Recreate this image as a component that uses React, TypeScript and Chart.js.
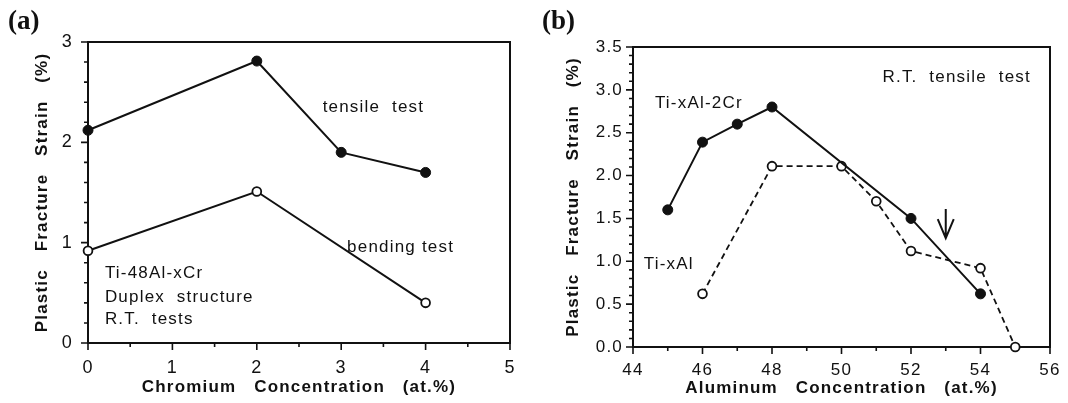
import React, { useEffect, useRef } from 'react';
import { Chart, registerables } from 'chart.js';

Chart.register(...registerables);

// ---------- Panel (a): Ti-48Al-xCr ----------
const CR_TENSILE_X = [0, 2, 3, 4];
const CR_TENSILE_Y = [2.12, 2.81, 1.9, 1.7];
const CR_BENDING_X = [0, 2, 4];
const CR_BENDING_Y = [0.92, 1.51, 0.4];
const A_X_TICK_LABELS = ['0', '1', '2', '3', '4', '5'];
const A_Y_TICK_LABELS = ['0', '1', '2', '3'];

// ---------- Panel (b): Ti-xAl-2Cr / Ti-xAl ----------
const AL_CR_X = [45, 46, 47, 48, 52, 54];
const AL_CR_Y = [1.6, 2.39, 2.6, 2.8, 1.5, 0.62];
const AL_X = [46, 48, 50, 51, 52, 54, 55];
const AL_Y = [0.62, 2.11, 2.11, 1.7, 1.12, 0.92, 0];
const B_X_TICK_LABELS = ['44', '46', '48', '50', '52', '54', '56'];
const B_Y_TICK_LABELS = ['0.0', '0.5', '1.0', '1.5', '2.0', '2.5', '3.0', '3.5'];

// annotations (data coordinates)
const A_NOTES = [
  { text: 'tensile  test', x: 2.78, y: 2.3 },
  { text: 'bending test', x: 3.07, y: 0.91 },
  { text: 'Ti-48Al-xCr', x: 0.2, y: 0.645 },
  { text: 'Duplex  structure', x: 0.2, y: 0.41 },
  { text: 'R.T.  tests', x: 0.2, y: 0.19 },
];
const B_NOTES = [
  { text: 'R.T.  tensile  test', x: 51.18, y: 3.09 },
  { text: 'Ti-xAl-2Cr', x: 44.63, y: 2.79 },
  { text: 'Ti-xAl', x: 44.31, y: 0.91 },
];
const B_ARROW = { x: 53, from: 1.61, to: 1.27 };

const INK = '#111111';
const SANS = '"Liberation Sans", Arial, Helvetica, sans-serif';
const SERIF = '"Liberation Serif", "Times New Roman", serif';

type Note = { text: string; x: number; y: number };

interface PanelSpec {
  panelLabel: string;
  labelX: number;
  xMin: number; xMax: number; xMajor: number; xMinor: number; xLabels: string[];
  yMin: number; yMax: number; yMajor: number; yMinor: number; yLabels: string[];
  xTitle: string; yTitle: string;
  datasets: any[];
  notes: Note[];
  arrow?: { x: number; from: number; to: number };
  yAxisWidth: number; xAxisHeight: number;
  padTop: number; padRight: number;
  yTitlePad: number; xTitlePad: number;
  yTickPad: number; xTickPad: number;
  tickFont: number;
}

const isMajor = (v: number, base: number, step: number) => {
  const k = (v - base) / step;
  return Math.abs(k - Math.round(k)) < 1e-6;
};

function pts(xs: number[], ys: number[]) {
  return xs.map((x, i) => ({ x, y: ys[i] }));
}

function solidSeries(label: string, xs: number[], ys: number[]) {
  return {
    label, data: pts(xs, ys), borderColor: INK, borderWidth: 2,
    pointRadius: 5, pointBackgroundColor: INK, pointBorderColor: INK,
    pointBorderWidth: 1, tension: 0, clip: false,
  };
}

function openSeries(label: string, xs: number[], ys: number[], dashed: boolean) {
  return {
    label, data: pts(xs, ys), borderColor: INK, borderWidth: dashed ? 1.8 : 2,
    borderDash: dashed ? [6, 4] : [],
    pointRadius: 4.4, pointBackgroundColor: '#ffffff', pointBorderColor: INK,
    pointBorderWidth: 1.8, tension: 0, clip: false,
  };
}

function makeDecor(p: PanelSpec) {
  return {
    id: 'decor',
    beforeDraw(chart: any) {
      const ctx = chart.ctx;
      ctx.save();
      ctx.fillStyle = '#ffffff';
      ctx.fillRect(0, 0, chart.width, chart.height);
      ctx.restore();
      ctx.letterSpacing = '0px';
      ctx.save();
      ctx.fillStyle = INK;
      ctx.font = `bold 27px ${SERIF}`;
      ctx.textAlign = 'left';
      ctx.textBaseline = 'middle';
      ctx.fillText(p.panelLabel, p.labelX, 22);
      ctx.restore();
      ctx.letterSpacing = '1.2px';
    },
    beforeDatasetsDraw(chart: any) {
      const ctx = chart.ctx;
      const { left, right, top, bottom } = chart.chartArea;
      const xs = chart.scales.x;
      const ys = chart.scales.y;
      ctx.save();
      ctx.strokeStyle = INK;
      ctx.lineWidth = 1.6;
      ctx.beginPath();
      for (const t of xs.ticks) {
        const px = xs.getPixelForValue(t.value);
        const len = isMajor(t.value, p.xMin, p.xMajor) ? 7 : 4;
        ctx.moveTo(px, bottom);
        ctx.lineTo(px, bottom + len);
      }
      for (const t of ys.ticks) {
        const py = ys.getPixelForValue(t.value);
        const len = isMajor(t.value, p.yMin, p.yMajor) ? 7 : 4;
        ctx.moveTo(left, py);
        ctx.lineTo(left - len, py);
      }
      ctx.stroke();
      ctx.lineWidth = 2;
      ctx.strokeRect(left, top, right - left, bottom - top);
      ctx.restore();
    },
    afterDatasetsDraw(chart: any) {
      const ctx = chart.ctx;
      const xs = chart.scales.x;
      const ys = chart.scales.y;
      ctx.save();
      ctx.fillStyle = INK;
      ctx.font = `17px ${SANS}`;
      ctx.textAlign = 'left';
      ctx.textBaseline = 'alphabetic';
      for (const n of p.notes) {
        ctx.fillText(n.text, xs.getPixelForValue(n.x), ys.getPixelForValue(n.y));
      }
      if (p.arrow) {
        const ax = xs.getPixelForValue(p.arrow.x);
        const y0 = ys.getPixelForValue(p.arrow.from);
        const y1 = ys.getPixelForValue(p.arrow.to);
        ctx.strokeStyle = INK;
        ctx.lineWidth = 2;
        ctx.beginPath();
        ctx.moveTo(ax, y0);
        ctx.lineTo(ax, y1);
        ctx.moveTo(ax - 8, y1 - 19);
        ctx.lineTo(ax, y1);
        ctx.lineTo(ax + 8, y1 - 19);
        ctx.stroke();
      }
      ctx.restore();
    },
  };
}

function buildConfig(p: PanelSpec): any {
  const labelFor = (labels: string[], base: number, step: number) => (v: number) =>
    isMajor(v, base, step) ? (labels[Math.round((v - base) / step)] ?? '') : '';
  return {
    type: 'line',
    data: { datasets: p.datasets },
    plugins: [makeDecor(p)],
    options: {
      responsive: false,
      animation: false,
      events: [],
      layout: { padding: { left: 0, top: p.padTop, right: p.padRight, bottom: 0 } },
      plugins: { legend: { display: false }, tooltip: { enabled: false } },
      scales: {
        x: {
          type: 'linear',
          min: p.xMin,
          max: p.xMax,
          afterFit: (s: any) => { s.height = p.xAxisHeight; },
          grid: { display: false, drawTicks: true, tickLength: 7 },
          border: { display: false },
          ticks: {
            stepSize: p.xMinor,
            autoSkip: false,
            maxRotation: 0,
            minRotation: 0,
            padding: p.xTickPad,
            color: INK,
            font: { family: SANS, size: p.tickFont },
            callback: labelFor(p.xLabels, p.xMin, p.xMajor),
          },
          title: {
            display: true,
            text: p.xTitle,
            color: INK,
            font: { family: SANS, size: 17, weight: 'bold' },
            padding: { top: 0, bottom: p.xTitlePad },
          },
        },
        y: {
          type: 'linear',
          min: p.yMin,
          max: p.yMax,
          afterFit: (s: any) => { s.width = p.yAxisWidth; },
          grid: { display: false, drawTicks: true, tickLength: 7 },
          border: { display: false },
          ticks: {
            stepSize: p.yMinor,
            autoSkip: false,
            padding: p.yTickPad,
            color: INK,
            font: { family: SANS, size: p.tickFont },
            callback: labelFor(p.yLabels, p.yMin, p.yMajor),
          },
          title: {
            display: true,
            text: p.yTitle,
            color: INK,
            font: { family: SANS, size: 17, weight: 'bold' },
            padding: { top: p.yTitlePad, bottom: 0 },
          },
        },
      },
    },
  };
}

const Y_TITLE = 'Plastic   Fracture   Strain   (%)';

const SPEC_A: PanelSpec = {
  panelLabel: '(a)', labelX: 8,
  xMin: 0, xMax: 5, xMajor: 1, xMinor: 0.5, xLabels: A_X_TICK_LABELS,
  yMin: 0, yMax: 3, yMajor: 1, yMinor: 0.2, yLabels: A_Y_TICK_LABELS,
  xTitle: 'Chromium   Concentration   (at.%)', yTitle: Y_TITLE,
  datasets: [
    solidSeries('tensile test', CR_TENSILE_X, CR_TENSILE_Y),
    openSeries('bending test', CR_BENDING_X, CR_BENDING_Y, false),
  ],
  notes: A_NOTES,
  yAxisWidth: 88, xAxisHeight: 60, padTop: 42, padRight: 24,
  yTitlePad: 32, xTitlePad: 5, yTickPad: 8, xTickPad: 7, tickFont: 18,
};

const SPEC_B: PanelSpec = {
  panelLabel: '(b)', labelX: 8,
  xMin: 44, xMax: 56, xMajor: 2, xMinor: 1, xLabels: B_X_TICK_LABELS,
  yMin: 0, yMax: 3.5, yMajor: 0.5, yMinor: 0.1, yLabels: B_Y_TICK_LABELS,
  xTitle: 'Aluminum   Concentration   (at.%)', yTitle: Y_TITLE,
  datasets: [
    solidSeries('Ti-xAl-2Cr', AL_CR_X, AL_CR_Y),
    openSeries('Ti-xAl', AL_X, AL_Y, true),
  ],
  notes: B_NOTES,
  arrow: B_ARROW,
  yAxisWidth: 99, xAxisHeight: 56, padTop: 47, padRight: 18,
  yTitlePad: 29, xTitlePad: 4, yTickPad: 3, xTickPad: 6, tickFont: 17,
};

function Panel({ spec, left, width }: { spec: PanelSpec; left: number; width: number }) {
  const ref = useRef<HTMLCanvasElement | null>(null);
  useEffect(() => {
    if (!ref.current) return;
    const chart = new Chart(ref.current, buildConfig(spec));
    return () => chart.destroy();
  }, [spec]);
  return (
    <canvas
      ref={ref}
      width={width}
      height={403}
      style={{ position: 'absolute', left, top: 0, width, height: 403, display: 'block' }}
    />
  );
}

export default function App() {
  return (
    <div
      style={{
        position: 'fixed', left: 0, top: 0, width: 1068, height: 403,
        background: '#ffffff', overflow: 'hidden',
      }}
    >
      <Panel spec={SPEC_A} left={0} width={534} />
      <Panel spec={SPEC_B} left={534} width={534} />
    </div>
  );
}
